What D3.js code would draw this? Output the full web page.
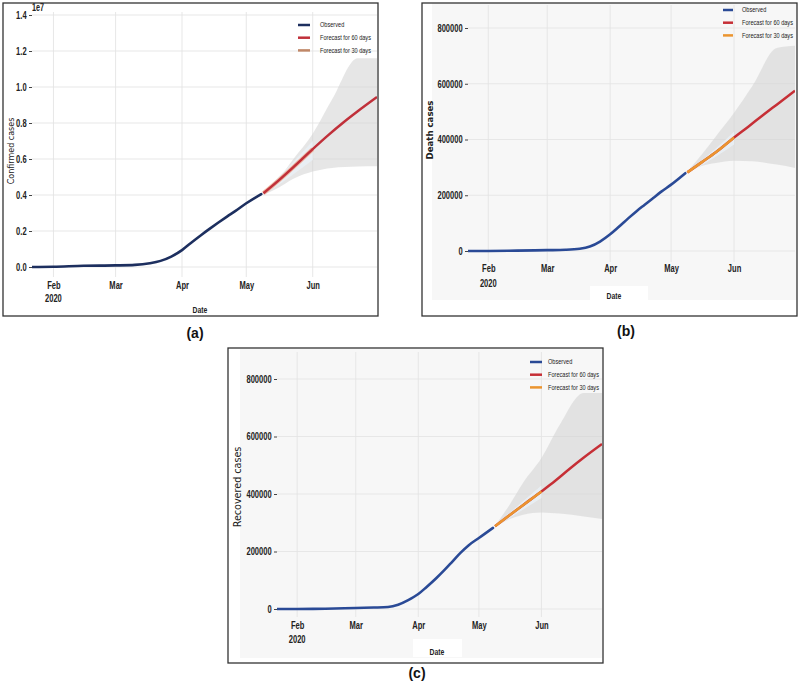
<!DOCTYPE html>
<html><head><meta charset="utf-8">
<script src="https://cdn.jsdelivr.net/npm/d3@7"></script>
<style>body{margin:0;background:#fff}svg{display:block}</style>
</head><body>
<svg id="chart" width="799" height="681"></svg>
<script>
// ---------------- data ----------------
const xStart = "2020-01-22", xEnd = "2020-07-01";
const monthTicks = ["2020-02-01","2020-03-01","2020-04-01","2020-05-01","2020-06-01"];
const monthLabels = ["Feb","Mar","Apr","May","Jun"];
const yearLabel = "2020";
const confirmedTicks = [0,0.2,0.4,0.6,0.8,1.0,1.2,1.4];
const caseTicks = [0,200000,400000,600000,800000];
const legendLabels = ["Observed","Forecast for 60 days","Forecast for 30 days"];

const obsDates = ["2020-01-22","2020-02-01","2020-02-15","2020-03-01","2020-03-10","2020-03-17","2020-03-22","2020-03-27","2020-04-01","2020-04-05","2020-04-10","2020-04-14","2020-04-18","2020-04-22","2020-04-26","2020-05-01","2020-05-08"];
const confirmedObs = [0.00006,0.0012,0.0069,0.0088,0.0118,0.021,0.034,0.058,0.094,0.132,0.178,0.213,0.247,0.28,0.312,0.354,0.405];
const deathObs = [17,260,1500,3000,4300,8000,16000,34000,60000,85000,118000,143000,166000,189000,212000,238000,279000];
const recoveredObs = [0,200,1000,3500,5000,7000,15000,31000,52000,76000,108000,136000,166000,196000,222000,247000,282000];

const fcDates = ["2020-05-09","2020-05-16","2020-05-23","2020-06-01","2020-06-08","2020-06-15","2020-06-22","2020-07-01"];
const confirmedFc60 = [0.41,0.48,0.555,0.655,0.73,0.80,0.865,0.944];
const deathFc60 = [282000,318000,354000,407000,446000,486000,525000,575000];
const recoveredFc60 = [288000,325000,362000,409000,447000,488000,527000,574000];

const fc30Dates = ["2020-05-09","2020-05-16","2020-05-23","2020-06-01"];
const confirmedFc30 = [0.41,0.48,0.555,0.655];
const deathFc30 = [282000,318000,354000,407000];
const recoveredFc30 = [288000,325000,362000,409000];

const bandDates = ["2020-05-09","2020-05-16","2020-05-23","2020-06-01","2020-06-10","2020-06-22","2020-07-01"];
const confirmedUpper = [0.41,0.49,0.60,0.74,0.93,1.16,1.16];
const confirmedLower = [0.40,0.44,0.49,0.53,0.55,0.558,0.56];
const deathUpper = [285000,345000,411000,496000,592000,728000,736000];
const deathLower = [282000,305000,316000,324000,322000,310000,298000];
const recoveredUpper = [290000,360000,440000,525000,640000,751000,751000];
const recoveredLower = [286000,312000,328000,336000,332000,322000,313000];

const band30Dates = ["2020-05-09","2020-05-16","2020-05-23","2020-06-01"];
const confirmedUpper30 = [0.412,0.50,0.585,0.70];
const confirmedLower30 = [0.402,0.455,0.515,0.595];
const deathUpper30 = [284000,325000,368000,428000];
const deathLower30 = [281000,308000,338000,382000];
const recoveredUpper30 = [290000,333000,376000,430000];
const recoveredLower30 = [286000,316000,346000,386000];

// ---------------- drawing ----------------
const parse = d3.timeParse("%Y-%m-%d");
const svg = d3.select("#chart");
const tickFont = "'Liberation Sans',Arial,sans-serif";
const labelFont = "'DejaVu Sans',sans-serif";
const SX = 0.72; // horizontal squeeze for the condensed look of the reference
const TICK_SIZE = 10.5;

function ntext(parent, x, y, str, size, opts = {}) {
  return parent.append("text")
    .attr("transform", `translate(${x},${y}) scale(${opts.sx || SX},1)`)
    .attr("text-anchor", opts.anchor || "start")
    .attr("dy", opts.dy || null)
    .attr("font-family", tickFont).attr("font-size", size)
    .attr("font-weight", opts.weight || "bold").attr("fill", "#222").text(str);
}

const panels = [
  {id:"a", frame:[3,3,378,316], bg:null, L:32,R:377,T:12,B:277,y0:267,yTop:15, yMax:1.4,
   ticks:confirmedTicks, fmt:d3.format(".1f"),
   obs:confirmedObs, fc60:confirmedFc60, fc30:confirmedFc30, up:confirmedUpper, lo:confirmedLower, up30:confirmedUpper30, lo30:confirmedLower30,
   cObs:"#1d2f5f", c60:"#c0303a", c30:"#c08767", orangeOnTop:false,
   ylabel:"Confirmed cases", ylX:11, ylY:151, ylSize:8, ylWeight:"normal",
   dateX:200, dateY:313, monthPad:6, yearY:301, legX:298, legY:25, legLen:12, legText:320,
   letter:"(a)", letterX:195, letterY:338, exponent:"1e7"},
  {id:"b", frame:[422,3,797,316], bg:[432,3,797,300], datePatch:[590,286,648,302], L:468,R:795,T:5,B:262,y0:251,yTop:28, yMax:800000,
   ticks:caseTicks, fmt:d3.format("d"),
   obs:deathObs, fc60:deathFc60, fc30:deathFc30, up:deathUpper, lo:deathLower, up30:deathUpper30, lo30:deathLower30,
   cObs:"#2a4a96", c60:"#c62f36", c30:"#eb9530", orangeOnTop:true,
   ylabel:"Death cases", ylX:430, ylY:130, ylSize:8.6, ylWeight:"bold",
   dateX:614, dateY:299, monthPad:4, yearY:286, legX:723, legY:10, legLen:10, legText:742,
   letter:"(b)", letterX:626, letterY:336},
  {id:"c", frame:[228,348,603,663], bg:[240,349,602,658], datePatch:[413,639,462,657], L:277,R:602,T:352,B:617,y0:609,yTop:379, yMax:800000,
   ticks:caseTicks, fmt:d3.format("d"),
   obs:recoveredObs, fc60:recoveredFc60, fc30:recoveredFc30, up:recoveredUpper, lo:recoveredLower, up30:recoveredUpper30, lo30:recoveredLower30,
   cObs:"#2a4a96", c60:"#c62f36", c30:"#eb9530", orangeOnTop:true,
   ylabel:"Recovered cases", ylX:238, ylY:487, ylSize:9.6, ylWeight:"normal",
   dateX:437, dateY:655, monthPad:6, yearY:642, legX:530, legY:362, legLen:12, legText:548,
   letter:"(c)", letterX:417, letterY:678}
];

panels.forEach(p => {
  const g = svg.append("g");
  const [fx0,fy0,fx1,fy1] = p.frame;
  if (p.bg) g.append("rect").attr("x",p.bg[0]).attr("y",p.bg[1]).attr("width",p.bg[2]-p.bg[0]).attr("height",p.bg[3]-p.bg[1]).attr("fill","#f7f7f7");
  if (p.datePatch) g.append("rect").attr("x",p.datePatch[0]).attr("y",p.datePatch[1]).attr("width",p.datePatch[2]-p.datePatch[0]).attr("height",p.datePatch[3]-p.datePatch[1]).attr("fill","#fff");

  const x = d3.scaleTime().domain([parse(xStart), parse(xEnd)]).range([p.L, p.R]);
  const y = d3.scaleLinear().domain([0, p.yMax]).range([p.y0, p.yTop]);

  const clipId = "clip-" + p.id;
  g.append("clipPath").attr("id", clipId).append("rect")
    .attr("x", p.L).attr("y", p.T).attr("width", p.R - p.L).attr("height", p.B - p.T);

  // grid
  const grid = g.append("g").attr("stroke","#e4e4e4").attr("stroke-width",0.9);
  monthTicks.forEach(m => grid.append("line").attr("x1",x(parse(m))).attr("x2",x(parse(m))).attr("y1",p.T).attr("y2",p.B));
  p.ticks.forEach(t => grid.append("line").attr("x1",p.L).attr("x2",p.R).attr("y1",y(t)).attr("y2",y(t)));

  const plot = g.append("g").attr("clip-path", `url(#${clipId})`);

  // confidence bands
  const band = (dates, up, lo) => d3.area().x((d,i)=>x(parse(dates[i]))).y0((d,i)=>y(lo[i])).y1((d,i)=>y(up[i])).curve(d3.curveMonotoneX)(dates);
  plot.append("path").attr("d", band(bandDates, p.up, p.lo)).attr("fill","#d2d2d2").attr("fill-opacity",0.55);
  plot.append("path").attr("d", band(band30Dates, p.up30, p.lo30)).attr("fill","#e9f0f5").attr("fill-opacity",0.9);

  const line = (dates, vals) => d3.line().x((d,i)=>x(parse(dates[i]))).y((d,i)=>y(vals[i])).curve(d3.curveMonotoneX)(dates);

  plot.append("path").attr("d", line(obsDates, p.obs)).attr("fill","none").attr("stroke",p.cObs).attr("stroke-width",2.6).attr("stroke-linecap","round");
  if (!p.orangeOnTop) {
    plot.append("path").attr("d", line(fc30Dates, p.fc30)).attr("fill","none").attr("stroke","#eea58a").attr("stroke-width",4.2).attr("stroke-opacity",0.75);
  }
  plot.append("path").attr("d", line(fcDates, p.fc60)).attr("fill","none").attr("stroke",p.c60).attr("stroke-width",2.5);
  if (p.orangeOnTop) {
    plot.append("path").attr("d", line(fc30Dates, p.fc30)).attr("fill","none").attr("stroke",p.c30).attr("stroke-width",2.5);
  }

  // y axis
  const ya = g.append("g").attr("transform",`translate(${p.L},0)`)
    .call(d3.axisLeft(y).tickValues(p.ticks).tickFormat(p.fmt).tickSize(3).tickPadding(4.5));
  ya.select(".domain").remove();
  ya.selectAll("line").attr("stroke","#444");
  ya.selectAll("text").attr("font-family",tickFont).attr("font-size",TICK_SIZE).attr("font-weight","bold").attr("fill","#222")
    .attr("transform",`scale(${SX},1)`);

  // x axis
  const xa = g.append("g").attr("transform",`translate(0,${p.B})`)
    .call(d3.axisBottom(x).tickValues(monthTicks.map(parse)).tickFormat((d,i)=>monthLabels[i]).tickSize(0).tickPadding(p.monthPad - 1));
  xa.select(".domain").remove();
  xa.selectAll("text").attr("font-family",tickFont).attr("font-size",TICK_SIZE).attr("font-weight","bold").attr("fill","#222")
    .attr("transform",`scale(${SX},1)`);
  ntext(g, x(parse(monthTicks[0])), p.yearY + 0.5, yearLabel, TICK_SIZE, {anchor:"middle"});

  if (p.exponent) ntext(g, p.L, 11, p.exponent, 10, {});

  // axis labels
  g.append("text").attr("transform",`translate(${p.ylX},${p.ylY}) rotate(-90)`).attr("text-anchor","middle").attr("dy","0.35em")
    .attr("font-family",labelFont).attr("font-size",p.ylSize).attr("font-weight",p.ylWeight).attr("fill","#222").text(p.ylabel);
  ntext(g, p.dateX, p.dateY, "Date", 9.5, {anchor:"middle"});

  // legend
  const legColors = [p.cObs, p.c60, p.c30];
  legendLabels.forEach((lab,i) => {
    const ly = p.legY + i*12.7;
    g.append("line").attr("x1",p.legX).attr("x2",p.legX+p.legLen).attr("y1",ly).attr("y2",ly).attr("stroke",legColors[i]).attr("stroke-width",2.5);
    ntext(g, p.legText, ly, lab, 7, {dy:"0.35em", weight:"normal", sx:0.8});
  });

  // frame
  g.append("rect").attr("x",fx0).attr("y",fy0).attr("width",fx1-fx0).attr("height",fy1-fy0).attr("fill","none").attr("stroke","#333").attr("stroke-width",1.3);

  // panel letter
  svg.append("text").attr("x",p.letterX).attr("y",p.letterY).attr("text-anchor","middle")
    .attr("font-family","'Liberation Sans',sans-serif").attr("font-size",14).attr("font-weight","bold").attr("fill","#111").text(p.letter);
});
</script>
</body></html>
